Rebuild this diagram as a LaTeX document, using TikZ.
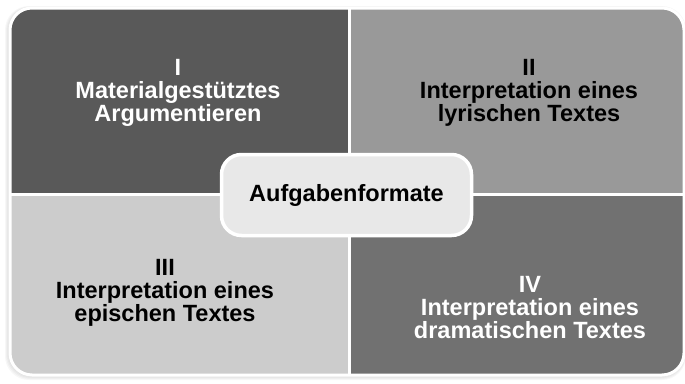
\documentclass[tikz,border=0pt]{standalone}
\usepackage{fontspec}
\setmainfont{Liberation Sans}
\definecolor{tlgray}{HTML}{595959}
\definecolor{trgray}{HTML}{999999}
\definecolor{blgray}{HTML}{CCCCCC}
\definecolor{brgray}{HTML}{717171}
\definecolor{coregray}{HTML}{E8E8E8}
\tikzset{
	field/.style={align=center, anchor=north, inner sep=0pt, font=\fontsize{23.5}{23}\selectfont\bfseries},
	core/.style={draw=white, line width=3.5pt, fill=coregray, rounded corners=20pt,
		minimum width=250pt, minimum height=81pt, font=\fontsize{23.5}{23}\selectfont\bfseries}
}

\begin{document}
\begin{tikzpicture}[x=1pt, y=-1pt]
	\useasboundingbox (0,0) rectangle (685,383);

	% soft shadow
	\foreach \s in {1,2,3,4,5}
		\fill[black, opacity=0.03, rounded corners=24pt] (10-\s,8-\s*0.4) rectangle (684+\s*0.4,375+\s);

	% the four fields
	\begin{scope}
		\clip[rounded corners=22pt] (10,8) rectangle (684,375);
		\fill[tlgray] (10,8) rectangle (349,194);
		\fill[trgray] (349,8) rectangle (684,194);
		\fill[blgray] (10,194) rectangle (349,375);
		\fill[brgray] (349,194) rectangle (684,375);
	\end{scope}
	\draw[white, line width=3pt] (349,8) -- (349,375);
	\draw[white, line width=3pt] (10,194) -- (684,194);
	\draw[white, line width=3pt, rounded corners=22pt] (10,8) rectangle (684,375);

	\node[field, text=white] (one) at (178,59.5) {I\\Materialgestütztes\\Argumentieren};
	\node[field, text=black] (two) at (529,59.5) {II\\Interpretation eines\\lyrischen Textes};
	\node[field, text=black] (three) at (165,259.5) {III\\Interpretation eines\\epischen Textes};
	\node[field, text=white] (four) at (530,276) {IV\\Interpretation eines\\dramatischen Textes};

	\node[core] (formats) at (346.5,195) {Aufgabenformate};
\end{tikzpicture}
\end{document}
